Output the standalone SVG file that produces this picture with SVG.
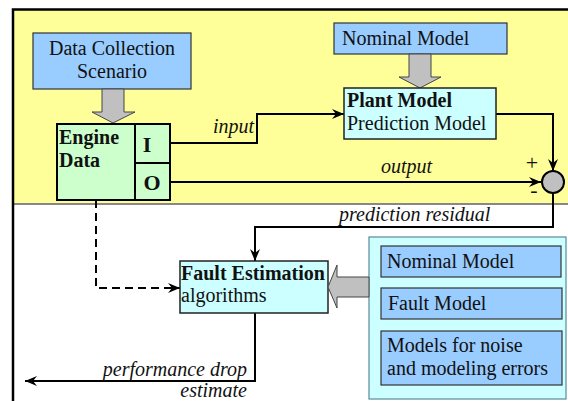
<svg xmlns="http://www.w3.org/2000/svg" width="568" height="401" viewBox="0 0 568 401">
<style>
text{font-family:"Liberation Serif","Times New Roman",serif;font-size:20px;fill:#111}
.b{font-weight:bold}
.i{font-style:italic}
.io{font-weight:bold;font-size:22px}
.sg{font-size:22px}
.blue{fill:#99ccff;stroke:#333;stroke-width:1.2}
.cyan{fill:#ccffff;stroke:#222;stroke-width:1.5}
.green{fill:#ccffcc;stroke:#000;stroke-width:2}
.fat{fill:#c0c0c0;stroke:#444;stroke-width:1}
.ln{fill:none;stroke:#000;stroke-width:2}
</style>
<defs>
<marker id="ah" viewBox="0 0 12 10" refX="12" refY="5" markerWidth="12" markerHeight="10" markerUnits="userSpaceOnUse" orient="auto">
<path d="M0,0 L12,5 L0,10 L4,5 z" fill="#000"/>
</marker>
</defs>
<rect x="0" y="0" width="568" height="401" fill="#fff"/>
<rect x="14" y="10" width="554" height="194" fill="#ffff99"/>
<line x1="14" y1="204" x2="568" y2="204" stroke="#888" stroke-width="2"/>
<path d="M13,401 V9.5 H568" fill="none" stroke="#000" stroke-width="2.5"/>

<g id="connectors">
<path class="ln" d="M170,143 H257 V114 H344" marker-end="url(#ah)"/>
<path class="ln" d="M496,114 H553 V171" marker-end="url(#ah)"/>
<path class="ln" d="M170,182 H541" marker-end="url(#ah)"/>
<path class="ln" d="M553,193 V227 H255 V261" marker-end="url(#ah)"/>
<path class="ln" d="M96,200 V288 H180" stroke-dasharray="8,5" marker-end="url(#ah)"/>
<path class="ln" d="M255,313 V381 H25" marker-end="url(#ah)"/>
<text class="i" x="213" y="133">input</text>
<text class="i" x="381" y="173">output</text>
<text class="i" x="339" y="221">prediction residual</text>
<text class="i" x="247" y="376" text-anchor="end">performance drop</text>
<text class="i" x="247" y="397" text-anchor="end">estimate</text>
<text class="sg" x="532" y="170" text-anchor="middle">+</text>
<text class="sg" x="534" y="197" text-anchor="middle">-</text>
</g>

<g id="data-collection">
<rect class="blue" x="33" y="33" width="158" height="56"/>
<text x="112" y="55" text-anchor="middle">Data Collection</text>
<text x="112" y="78" text-anchor="middle">Scenario</text>
<path class="fat" d="M102,89 H124 V112 H135 L113,123 L92,112 H102 Z"/>
</g>

<g id="engine-data">
<rect class="green" x="57" y="124" width="78" height="76"/>
<text class="b" x="59" y="144">Engine</text>
<text class="b" x="59" y="167">Data</text>
<rect class="green" x="135" y="124" width="35" height="39"/>
<text class="io" x="147" y="152" text-anchor="middle">I</text>
<rect class="green" x="135" y="163" width="35" height="37"/>
<text class="io" x="152" y="190" text-anchor="middle">O</text>
</g>

<g id="nominal-model-top">
<rect class="blue" x="334" y="23" width="173" height="31"/>
<text x="342" y="45">Nominal Model</text>
<path class="fat" d="M409,54 H431 V77 H441 L420,88 L399,77 H409 Z"/>
</g>

<g id="plant-model">
<rect class="cyan" x="344" y="88" width="152" height="51"/>
<text class="b" x="347" y="107">Plant Model</text>
<text x="347" y="130">Prediction Model</text>
</g>

<g id="sum">
<circle cx="553" cy="182" r="11" fill="#c0c0c0" stroke="#000" stroke-width="2"/>
</g>

<g id="fault-estimation">
<rect class="cyan" x="180" y="261" width="148" height="52"/>
<text class="b" x="181" y="280">Fault Estimation</text>
<text x="181" y="302">algorithms</text>
</g>

<g id="models">
<rect x="369" y="237" width="197" height="162" fill="#ccffff" stroke="#5a8a9a" stroke-width="1.2"/>
<path class="fat" d="M369,277 H337 V265 L328,287 L337,308 V297 H369 Z"/>
<rect class="blue" x="381" y="246" width="180" height="31"/>
<text x="387" y="268">Nominal Model</text>
<rect class="blue" x="381" y="288" width="181" height="31"/>
<text x="388" y="310">Fault Model</text>
<rect class="blue" x="381" y="331" width="181" height="54"/>
<text x="387" y="352">Models for noise</text>
<text x="387" y="375">and modeling errors</text>
</g>
</svg>
